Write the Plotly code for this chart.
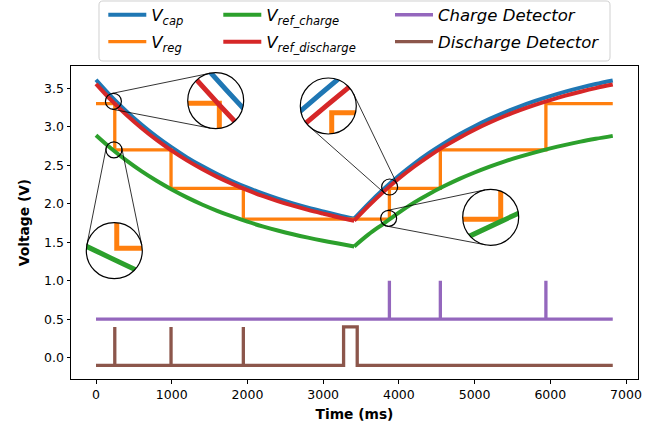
import math
import plotly.graph_objects as go

# ---------------- data ----------------
# discharge phase
T_DIS = [0, 200, 400, 600, 800, 1000, 1200, 1400, 1600, 1800, 2000, 2200, 2400, 2600, 2800, 3000, 3200, 3410]
VCAP_DIS = [3.610, 3.395, 3.202, 3.028, 2.871, 2.730, 2.602, 2.488, 2.385, 2.292, 2.208, 2.133, 2.065, 2.004,
            1.949, 1.899, 1.852, 1.806]
VREF_DIS_DIS = [3.556, 3.344, 3.154, 2.983, 2.828, 2.689, 2.563, 2.451, 2.349, 2.258, 2.175, 2.101, 2.034, 1.974,
                1.920, 1.871, 1.824, 1.779]
VREF_CHG_DIS = [2.888, 2.716, 2.562, 2.422, 2.297, 2.184, 2.082, 1.990, 1.908, 1.834, 1.766, 1.706, 1.652, 1.603,
                1.559, 1.519, 1.482, 1.445]
# charge phase
T_CHG = [3410, 3600, 3800, 4000, 4200, 4400, 4600, 4800, 5000, 5200, 5400, 5600, 5800, 6000, 6200, 6400, 6600, 6825]
VCAP_CHG = [1.806, 2.001, 2.190, 2.362, 2.518, 2.659, 2.786, 2.902, 3.006, 3.101, 3.187, 3.264, 3.334, 3.397,
            3.455, 3.507, 3.554, 3.601]
VREF_DIS_CHG = [1.779, 1.971, 2.157, 2.327, 2.480, 2.619, 2.744, 2.858, 2.961, 3.054, 3.139, 3.215, 3.284, 3.346,
                3.403, 3.454, 3.501, 3.547]
VREF_CHG_CHG = [1.445, 1.601, 1.742, 1.885, 2.014, 2.127, 2.229, 2.322, 2.405, 2.481, 2.550, 2.611, 2.667, 2.718,
                2.764, 2.806, 2.843, 2.881]

VREG_T = [0, 248, 991, 1946, 3875, 4548, 5942, 6825]
VREG = [3.3, 2.7, 2.2, 1.8, 2.2, 2.7, 3.3, 3.3]
CHG_DET_T = [0, 3875, 3875, 3875, 4548, 4548, 4548, 5942, 5942, 5942, 6825]
CHG_DET = [0.5, 0.5, 1.0, 0.5, 0.5, 1.0, 0.5, 0.5, 1.0, 0.5, 0.5]
DIS_DET_T = [0, 248, 248, 248, 991, 991, 991, 1946, 1946, 1946, 3270, 3270, 3450, 3450, 6825]
DIS_DET = [-0.1, -0.1, 0.4, -0.1, -0.1, 0.4, -0.1, -0.1, 0.4, -0.1, -0.1, 0.4, 0.4, -0.1, -0.1]

X_TICKS = [0, 1000, 2000, 3000, 4000, 5000, 6000, 7000]
Y_TICKS = [0.0, 0.5, 1.0, 1.5, 2.0, 2.5, 3.0, 3.5]

# zoomed spots (data coords) and their magnified windows
ZOOM_T = [230, 237, 3878, 3865]
ZOOM_V = [3.33, 2.70, 2.217, 1.81]
INSET_XRANGE = [(169.5, 308.5), (215.7, 275.1), (3814.4, 3922.4), (3834.0, 3894.4)]
INSET_YRANGE = [(3.2433, 3.3683), (2.646, 2.745), (2.1574, 2.2694), (1.7565, 1.8498)]

# ---------------- layout geometry ----------------
W, H = 653, 427
ML, MR, MT, MB = 71, 15, 66, 48
PW, PH = W - ML - MR, H - MT - MB
XR = [-330.2, 7158.4]
YR = [-0.2766, 3.7883]
INSET_CENTER_PX = [(215.7, 100.7), (114.3, 250.7), (328.3, 106.0), (490.7, 217.3)]
INSET_R = 28
SMALL_R = 8

C_BLUE, C_ORANGE, C_GREEN, C_RED, C_PURPLE, C_BROWN = (
    '#1f77b4', '#ff7f0e', '#2ca02c', '#d62728', '#9467bd', '#8c564b')
FONT = 'DejaVu Sans'


def px2paper(px, py):
    return (px - ML) / PW, ((H - MB) - py) / PH


def data2px(t, v):
    return (ML + (t - XR[0]) / (XR[1] - XR[0]) * PW,
            (H - MB) - (v - YR[0]) / (YR[1] - YR[0]) * PH)


fig = go.Figure()

# each series: (name, [(x, y), ...segments], color, width, shape, legend)
series = [
    ('<i>V<sub>cap</sub></i>', [(T_DIS, VCAP_DIS), (T_CHG, VCAP_CHG)], C_BLUE, 4, 'spline', 'legend'),
    ('<i>V<sub>reg</sub></i>', [(VREG_T, VREG)], C_ORANGE, 3.3, 'hv', 'legend'),
    ('<i>V<sub>ref_charge</sub></i>', [(T_DIS, VREF_CHG_DIS), (T_CHG, VREF_CHG_CHG)], C_GREEN, 4, 'spline', 'legend2'),
    ('<i>V<sub>ref_discharge</sub></i>', [(T_DIS, VREF_DIS_DIS), (T_CHG, VREF_DIS_CHG)], C_RED, 4, 'spline', 'legend2'),
    ('<i>Charge Detector</i>', [(CHG_DET_T, CHG_DET)], C_PURPLE, 3.3, 'linear', 'legend3'),
    ('<i>Discharge Detector</i>', [(DIS_DET_T, DIS_DET)], C_BROWN, 3.3, 'linear', 'legend3'),
]
for i, (name, segs, c, w, shape, leg) in enumerate(series):
    for j, (x, y) in enumerate(segs):
        fig.add_trace(go.Scatter(x=x, y=y, mode='lines', name=name, legend=leg, legendgroup='g%d' % i,
                                 showlegend=(j == 0),
                                 line=dict(color=c, width=w, shape=shape, smoothing=1)))

# magnified insets (same data, zoomed axes)
for k in range(4):
    xa, ya = 'x%d' % (k + 2), 'y%d' % (k + 2)
    for name, segs, c, w, shape, leg in series[:4]:
        for x, y in segs:
            fig.add_trace(go.Scatter(x=x, y=y, mode='lines', showlegend=False, xaxis=xa, yaxis=ya,
                                     line=dict(color=c, width=5, shape=shape, smoothing=1), hoverinfo='skip'))

axis_common = dict(showgrid=False, zeroline=False, showline=True, linecolor='black', linewidth=1,
                   mirror=True, ticks='outside', ticklen=3.5, tickwidth=0.8, tickcolor='black',
                   tickfont=dict(family=FONT, size=12.5, color='black'))
layout = dict(
    width=W, height=H, margin=dict(l=ML, r=MR, t=MT, b=MB, autoexpand=False),
    paper_bgcolor='white', plot_bgcolor='white',
    xaxis=dict(range=XR, tickvals=X_TICKS, ticktext=[str(v) for v in X_TICKS],
               title=dict(text='<b>Time (ms)</b>', font=dict(family=FONT, size=13.8, color='black'), standoff=8),
               **axis_common),
    yaxis=dict(range=YR, tickvals=Y_TICKS, ticktext=['%.1f' % v for v in Y_TICKS],
               title=dict(text='<b>Voltage (V)</b>', font=dict(family=FONT, size=13.8, color='black'), standoff=11),
               **axis_common),
    showlegend=True,
)

leg_common = dict(orientation='v', bgcolor='rgba(0,0,0,0)', borderwidth=0,
                  font=dict(family=FONT, size=16.5, color='black'), tracegroupgap=2.5,
                  itemwidth=38, xanchor='left', yanchor='top')
LEG_X_PX = [103.3, 218.3, 390.0]
for j, lname in enumerate(['legend', 'legend2', 'legend3']):
    lx, ly = px2paper(LEG_X_PX[j], -2.5)
    layout[lname] = dict(x=lx, y=ly, **leg_common)

for k in range(4):
    cx, cy = INSET_CENTER_PX[k]
    x0, y0 = px2paper(cx - INSET_R, cy + INSET_R)
    x1, y1 = px2paper(cx + INSET_R, cy - INSET_R)
    layout['xaxis%d' % (k + 2)] = dict(domain=[x0, x1], range=list(INSET_XRANGE[k]), visible=False,
                                        anchor='y%d' % (k + 2), fixedrange=True)
    layout['yaxis%d' % (k + 2)] = dict(domain=[y0, y1], range=list(INSET_YRANGE[k]), visible=False,
                                        anchor='x%d' % (k + 2), fixedrange=True)

fig.update_layout(**layout)

shapes = []


def P(px, py):
    a, b = px2paper(px, py)
    return '%.5f,%.5f' % (a, b)


# legend frame (rounded)
bx0, by0, bx1, by1, rr = 99, 1, 610, 61, 4
legpath = ('M ' + P(bx0 + rr, by0) + ' L ' + P(bx1 - rr, by0) + ' Q ' + P(bx1, by0) + ' ' + P(bx1, by0 + rr) +
           ' L ' + P(bx1, by1 - rr) + ' Q ' + P(bx1, by1) + ' ' + P(bx1 - rr, by1) +
           ' L ' + P(bx0 + rr, by1) + ' Q ' + P(bx0, by1) + ' ' + P(bx0, by1 - rr) +
           ' L ' + P(bx0, by0 + rr) + ' Q ' + P(bx0, by0) + ' ' + P(bx0 + rr, by0) + ' Z')
shapes.append(dict(type='path', xref='paper', yref='paper', path=legpath, layer='below',
                   fillcolor='rgba(255,255,255,0.8)', line=dict(color='#d0d0d0', width=1)))

for k in range(4):
    cx, cy = INSET_CENTER_PX[k]
    R = INSET_R
    sq = ('M ' + P(cx - R - 1, cy - R - 1) + ' L ' + P(cx + R + 1, cy - R - 1) + ' L ' +
          P(cx + R + 1, cy + R + 1) + ' L ' + P(cx - R - 1, cy + R + 1) + ' Z')
    circ = []
    for n in range(72):
        a = 2 * math.pi * n / 72
        circ.append(P(cx + R * math.cos(a), cy + R * math.sin(a)))
    cpath = ' M ' + circ[0] + ''.join(' L ' + c for c in circ[1:]) + ' Z'
    shapes.append(dict(type='path', xref='paper', yref='paper', path=sq + cpath, fillrule='evenodd',
                       fillcolor='white', line=dict(width=0), layer='above'))
    ox0, oy0 = px2paper(cx - R, cy + R)
    ox1, oy1 = px2paper(cx + R, cy - R)
    shapes.append(dict(type='circle', xref='paper', yref='paper', x0=ox0, x1=ox1, y0=oy0, y1=oy1,
                       line=dict(color='black', width=1.2), layer='above'))
    # small marker circle at the zoomed spot
    shapes.append(dict(type='circle', xref='x', yref='y', xsizemode='pixel', ysizemode='pixel',
                       xanchor=ZOOM_T[k], yanchor=ZOOM_V[k], x0=-SMALL_R, x1=SMALL_R, y0=-SMALL_R, y1=SMALL_R,
                       line=dict(color='black', width=1.2), layer='above'))
    # connector lines (external tangents)
    sx, sy = data2px(ZOOM_T[k], ZOOM_V[k])
    dx, dy = cx - sx, cy - sy
    D = math.hypot(dx, dy)
    th = math.atan2(dy, dx)
    al = math.acos((SMALL_R - R) / D)
    for s in (1, -1):
        ang = th + s * al
        p1 = px2paper(sx + SMALL_R * math.cos(ang), sy + SMALL_R * math.sin(ang))
        p2 = px2paper(cx + R * math.cos(ang), cy + R * math.sin(ang))
        shapes.append(dict(type='line', xref='paper', yref='paper', x0=p1[0], y0=p1[1], x1=p2[0], y1=p2[1],
                           line=dict(color='black', width=0.8), layer='above'))

fig.update_layout(shapes=shapes)
fig.write_html('out.html')
